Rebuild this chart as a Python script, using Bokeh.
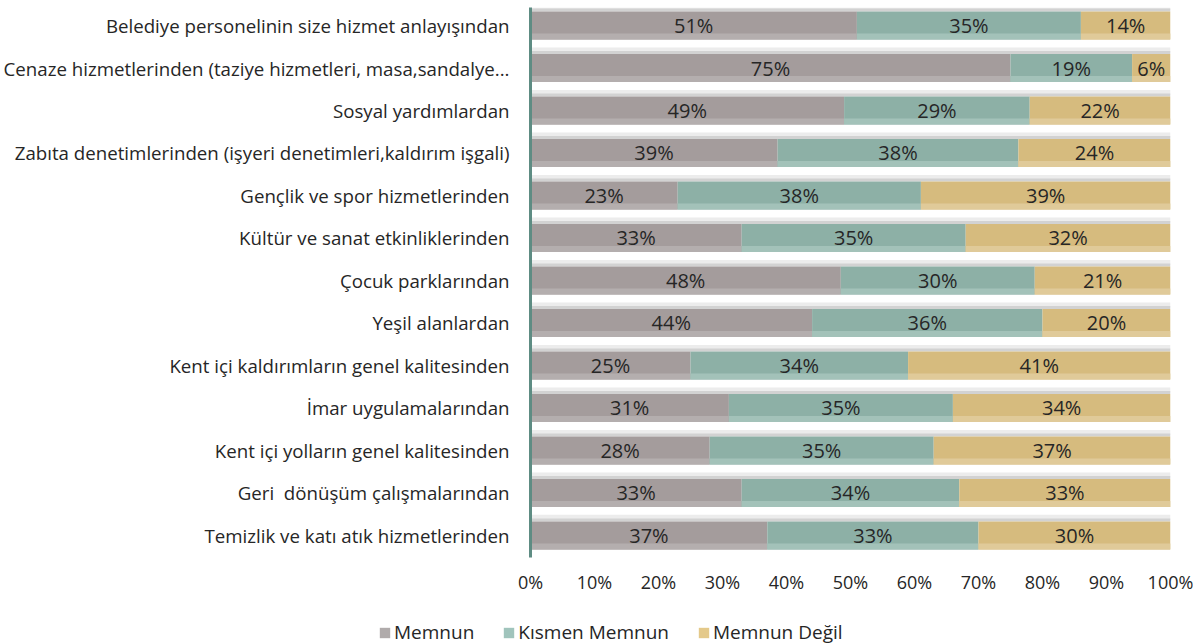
from bokeh.plotting import figure
from bokeh.layouts import column
from bokeh.models import ColumnDataSource, Range1d, FixedTicker, Legend, LegendItem
from bokeh.embed import file_html
from bokeh.resources import INLINE
from bokeh.core.properties import value

categories = [
    "Belediye personelinin size hizmet anlayışından",
    "Cenaze hizmetlerinden (taziye hizmetleri, masa,sandalye...",
    "Sosyal yardımlardan",
    "Zabıta denetimlerinden (işyeri denetimleri,kaldırım işgali)",
    "Gençlik ve spor hizmetlerinden",
    "Kültür ve sanat etkinliklerinden",
    "Çocuk parklarından",
    "Yeşil alanlardan",
    "Kent içi kaldırımların genel kalitesinden",
    "İmar uygulamalarından",
    "Kent içi yolların genel kalitesinden",
    "Geri \u00a0dönüşüm çalışmalarından",
    "Temizlik ve katı atık hizmetlerinden",
]
memnun = [51, 75, 49, 39, 23, 33, 48, 44, 25, 31, 28, 33, 37]
kismen = [35, 19, 29, 38, 38, 35, 30, 36, 34, 35, 35, 34, 33]
degil = [14, 6, 22, 24, 39, 32, 21, 20, 41, 34, 37, 33, 30]
series_names = ["Memnun", "Kısmen Memnun", "Memnun Değil"]
x_ticks = [0, 0.1, 0.2, 0.3, 0.4, 0.5, 0.6, 0.7, 0.8, 0.9, 1.0]
x_tick_labels = ["0%", "10%", "20%", "30%", "40%", "50%", "60%", "70%", "80%", "90%", "100%"]

colors = ["#a49c9c", "#8db0a6", "#d6bb7e"]
light_colors = ["#b4aeae", "#a3c2b9", "#e0ca99"]
legend_colors = ["#b0abab", "#a0c4bc", "#e4c98a"]
FONT = "Open Sans"
TXT = "#262626"

rows = list(range(1, len(categories) + 1))
series = [memnun, kismen, degil]
BAR_H = 0.66
PX = 1 / 42.4  # one pixel in row units

p = figure(frame_width=640, frame_height=550, output_backend="svg", toolbar_location=None,
           x_range=Range1d(0, 1), y_range=Range1d(13.52, 0.576),
           min_border_top=7, min_border_bottom=0, min_border_right=23, min_border_left=0)
p.frame_align = False
p.outline_line_color = None
p.grid.grid_line_color = None
p.background_fill_color = "white"

# soft shadow above each bar
sh = ColumnDataSource(dict(
    y1=[r - BAR_H / 2 - 4 * PX for r in rows],
    y2=[r - BAR_H / 2 - 1.5 * PX for r in rows],
))
p.hbar(y="y1", left=0, right=1, height=5 * PX, source=sh, fill_color="#ececec", line_color=None)
p.hbar(y="y2", left=0, right=1, height=3 * PX, source=sh, fill_color="#d2d2d2", line_color=None)

for si, vals in enumerate(series):
    lefts, rights, mids, labels = [], [], [], []
    for r in range(len(categories)):
        tot = memnun[r] + kismen[r] + degil[r]
        start = sum(series[k][r] for k in range(si)) / tot
        end = start + vals[r] / tot
        lefts.append(start)
        rights.append(end)
        mids.append((start + end) / 2)
        labels.append(f"{vals[r]}%")
    src = ColumnDataSource(dict(y=rows, left=lefts, right=rights, mid=mids, label=labels,
                                yl=[r + BAR_H / 2 - 3 * PX for r in rows]))
    p.hbar(y="y", left="left", right="right", height=BAR_H, source=src,
           fill_color=colors[si], line_color=None)
    p.hbar(y="yl", left="left", right="right", height=6 * PX, source=src,
           fill_color=light_colors[si], line_color=None)
    p.text(x="mid", y="y", text="label", source=src, text_align="center",
           text_baseline="middle", text_font=value(FONT), text_font_size="20px",
           text_color=TXT)

# y axis
ya = p.yaxis[0]
ya.ticker = FixedTicker(ticks=rows)
ya.major_label_overrides = {r: c for r, c in zip(rows, categories)}
ya.major_label_text_font = FONT
ya.major_label_text_font_size = "18.7px"
ya.major_label_text_color = TXT
ya.major_tick_line_color = None
ya.minor_tick_line_color = None
ya.axis_line_color = "#5e8c83"
ya.axis_line_width = 3
ya.major_label_standoff = 15

xa = p.xaxis[0]
xa.ticker = FixedTicker(ticks=x_ticks)
xa.major_label_overrides = {t: l for t, l in zip(x_ticks, x_tick_labels)}
xa.major_label_text_font = FONT
xa.major_label_text_font_size = "18px"
xa.major_label_text_color = TXT
xa.major_tick_line_color = None
xa.minor_tick_line_color = None
xa.axis_line_color = None
xa.major_label_standoff = 6

# legend strip below the chart
p2 = figure(width=1193, height=52, output_backend="svg", toolbar_location=None,
            x_range=Range1d(0, 1), y_range=Range1d(0, 1), min_border=0,
            x_axis_location=None, y_axis_location=None)
p2.frame_align = False
p2.grid.grid_line_color = None
p2.outline_line_color = None

leg_items = []
for si, name in enumerate(series_names):
    g = p2.quad(left=[-5], right=[-4], bottom=[-5], top=[-4], fill_color=legend_colors[si],
                line_color=None)
    leg_items.append(LegendItem(label=name, renderers=[g]))

legend = Legend(items=leg_items, orientation="horizontal", location=(378, 3),
                label_text_font=FONT, label_text_font_size="19px", label_text_color=TXT,
                glyph_width=13, glyph_height=13, label_standoff=3, spacing=28,
                padding=0, margin=0, border_line_color=None, background_fill_alpha=0)
p2.add_layout(legend, "center")

layout = column(p, p2, spacing=0)
open("out.html", "w").write(file_html(layout, INLINE))
